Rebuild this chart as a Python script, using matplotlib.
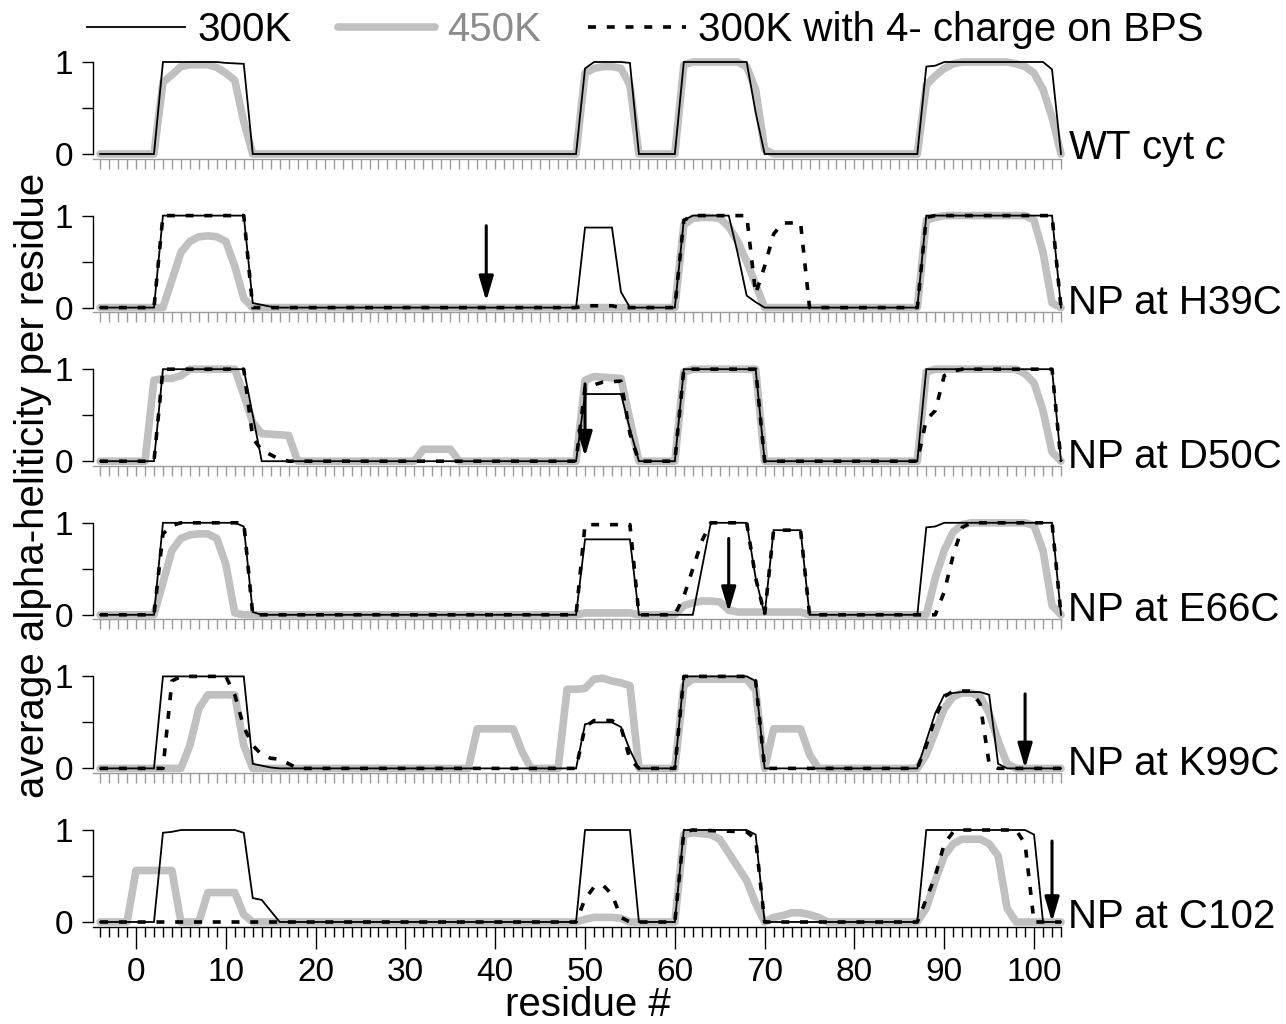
import matplotlib
matplotlib.use("Agg")
import matplotlib.pyplot as plt
from matplotlib.lines import Line2D
from matplotlib.ticker import FixedLocator, NullFormatter

plt.rcParams['font.family'] = ['Liberation Sans', 'DejaVu Sans']
plt.rcParams['mathtext.fontset'] = 'custom'
plt.rcParams['mathtext.it'] = 'Liberation Sans:italic'
plt.rcParams['mathtext.rm'] = 'Liberation Sans'

# ---- data: (residue, average helicity) vertices for each trajectory ----
panel_labels = ["WT cyt $c$", "NP at H39C", "NP at D50C",
                "NP at E66C", "NP at K99C", "NP at C102"]
np_residue = [None, 39, 50, 66, 99, 102]          # attachment site (arrow)
arrow_top = [None, 0.89, 0.84, 0.83, 0.81, 0.88]   # arrow tail height
arrow_tip = [None, 0.07, 0.05, 0.03, 0.0, 0.0]     # arrow tip height

wt_300 = [(-4, 0), (2, 0), (3, 1), (9, 1), (10, 0.99), (12, 0.98), (13, 0),
          (49, 0), (50, 0.93), (51, 1), (54, 1), (55, 0.99), (56, 0),
          (60, 0), (61, 1), (68, 1), (69, 0.45), (70, 0),
          (87, 0), (88, 0.95), (89, 0.96), (90, 1), (101, 1), (102, 0.92), (103, 0)]
wt_450 = [(-4, 0), (2, 0), (3, 0.78), (4, 0.86), (5, 0.95), (6, 0.97), (8, 0.97),
          (9, 0.94), (10, 0.88), (11, 0.8), (12, 0.35), (13, 0),
          (49, 0), (50, 0.88), (51, 0.93), (52, 0.95), (53, 0.95), (54, 0.93),
          (55, 0.75), (56, 0),
          (60, 0), (61, 0.97), (62, 1), (67, 1), (68, 0.95), (69, 0.7), (70, 0.05), (71, 0),
          (87, 0), (88, 0.75), (89, 0.85), (90, 0.93), (91, 0.98), (92, 1), (97, 1),
          (98, 0.98), (99, 0.95), (100, 0.88), (101, 0.7), (102, 0.4), (103, 0)]

h39_300 = [(-4, 0), (2, 0), (3, 1), (12, 1), (13, 0.05), (14, 0.03), (15, 0.01), (16, 0),
           (49, 0), (50, 0.87), (53, 0.87), (54, 0.17), (55, 0),
           (60, 0), (61, 0.95), (62, 1), (66, 1), (67, 0.59), (68, 0.13), (69, 0.06), (70, 0),
           (87, 0), (88, 1), (102, 1), (103, 0)]
h39_450 = [(-4, 0), (3, 0), (4, 0.3), (5, 0.6), (6, 0.72), (7, 0.77), (8, 0.78),
           (9, 0.77), (10, 0.72), (11, 0.45), (12, 0.1), (13, 0),
           (60, 0), (61, 0.9), (62, 0.97), (63, 0.98), (64, 0.98), (65, 0.97),
           (66, 0.88), (67, 0.72), (68, 0.5), (69, 0.25), (70, 0),
           (87, 0), (88, 0.95), (89, 0.98), (90, 1), (99, 1), (100, 0.95),
           (101, 0.6), (102, 0.05), (103, 0)]
h39_bps = [(-4, 0), (2, 0), (3, 1), (12, 1), (13, 0),
           (49, 0), (50, 0.02), (53, 0.02), (54, 0),
           (60, 0), (61, 0.95), (62, 1), (68, 1), (69, 0.15), (70, 0.45), (71, 0.8),
           (72, 0.92), (74, 0.92), (75, 0),
           (87, 0), (88, 0.98), (89, 1), (102, 1), (103, 0)]

d50_300 = [(-4, 0), (2, 0), (3, 1), (12, 1), (13, 0.5), (14, 0),
           (49, 0), (50, 0.73), (54, 0.73), (55, 0.35), (56, 0),
           (60, 0), (61, 1), (69, 1), (70, 0),
           (87, 0), (88, 1), (102, 1), (103, 0)]
d50_450 = [(-4, 0), (1, 0), (2, 0.88), (3, 0.9), (4, 0.9), (5, 0.93), (6, 1), (11, 1),
           (12, 0.72), (13, 0.42), (14, 0.3), (17, 0.28), (18, 0),
           (31, 0), (32, 0.13), (35, 0.13), (36, 0),
           (49, 0), (50, 0.88), (51, 0.92), (54, 0.9), (55, 0.45), (56, 0),
           (60, 0), (61, 0.97), (62, 1), (69, 1), (70, 0),
           (87, 0), (88, 0.97), (89, 1), (98, 1), (99, 0.95), (100, 0.85),
           (101, 0.55), (102, 0.1), (103, 0)]
d50_bps = [(-4, 0), (2, 0), (3, 1), (12, 1), (13, 0.25), (14, 0.12), (15, 0.07),
           (16, 0.02), (17, 0),
           (49, 0), (50, 0.8), (51, 0.83), (52, 0.86), (54, 0.87), (55, 0.3), (56, 0),
           (60, 0), (61, 1), (69, 1), (70, 0),
           (87, 0), (88, 0.45), (89, 0.55), (90, 0.93), (91, 0.98), (92, 1), (102, 1), (103, 0)]

e66_300 = [(-4, 0), (2, 0), (3, 1), (11, 1), (12, 0.96), (13, 0.03), (14, 0),
           (49, 0), (50, 0.82), (55, 0.82), (56, 0),
           (62, 0), (63, 0.5), (64, 1), (68, 1), (69, 0.4), (70, 0), (71, 0.92),
           (74, 0.92), (75, 0),
           (87, 0), (88, 0.95), (89, 0.96), (90, 1), (102, 1), (103, 0)]
e66_450 = [(-4, 0), (2, 0), (3, 0.35), (4, 0.7), (5, 0.83), (6, 0.87), (7, 0.88),
           (8, 0.88), (9, 0.83), (10, 0.55), (11, 0.02), (12, 0),
           (49, 0), (50, 0.02), (55, 0.02), (56, 0),
           (60, 0), (61, 0.1), (62, 0.13), (63, 0.15), (64, 0.15), (65, 0.14),
           (66, 0.05), (67, 0.03), (74, 0.03), (75, 0),
           (88, 0), (89, 0.4), (90, 0.7), (91, 0.9), (92, 0.98), (93, 1), (99, 1),
           (100, 0.97), (101, 0.7), (102, 0.1), (103, 0)]
e66_bps = [(-4, 0), (2, 0), (3, 0.88), (4, 0.97), (5, 1), (12, 1), (13, 0),
           (49, 0), (50, 0.98), (55, 0.98), (56, 0),
           (60, 0), (61, 0.2), (62, 0.5), (63, 0.8), (64, 1), (68, 1), (69, 0.4),
           (70, 0), (71, 0.92), (74, 0.92), (75, 0),
           (89, 0), (90, 0.25), (91, 0.65), (92, 0.95), (93, 1), (102, 1), (103, 0)]

k99_300 = [(-4, 0), (2, 0), (3, 1), (12, 1), (13, 0.05), (14, 0.03), (15, 0.01), (16, 0),
           (49, 0), (50, 0.48), (51, 0.5), (53, 0.5), (54, 0.45), (55, 0.2), (56, 0),
           (60, 0), (61, 1), (68, 1), (69, 0.95), (70, 0),
           (87, 0), (88, 0.3), (89, 0.6), (90, 0.8), (91, 0.82), (92, 0.83), (94, 0.83),
           (95, 0.8), (96, 0.05), (97, 0), (103, 0)]
k99_450 = [(-4, 0), (5, 0), (6, 0.25), (7, 0.65), (8, 0.8), (11, 0.8), (12, 0.25), (13, 0),
           (37, 0), (38, 0.43), (42, 0.43), (43, 0.18), (44, 0),
           (47, 0), (48, 0.86), (49, 0.86), (50, 0.87), (51, 0.97), (52, 0.98),
           (53, 0.95), (54, 0.93), (55, 0.9), (56, 0),
           (60, 0), (61, 0.9), (62, 0.97), (68, 0.97), (69, 0.85), (70, 0),
           (71, 0.43), (74, 0.43), (75, 0.15), (76, 0),
           (87, 0), (88, 0.15), (89, 0.4), (90, 0.65), (91, 0.78), (92, 0.82),
           (93, 0.82), (94, 0.78), (95, 0.6), (96, 0.3), (97, 0.05), (98, 0), (103, 0)]
k99_bps = [(-4, 0), (3, 0), (4, 0.95), (5, 1), (10, 1), (11, 0.8), (12, 0.45),
           (13, 0.25), (14, 0.15), (15, 0.11), (16, 0.1), (17, 0.05), (18, 0),
           (49, 0), (50, 0.45), (51, 0.52), (53, 0.52), (54, 0.45), (55, 0.1), (56, 0),
           (60, 0), (61, 1), (68, 1), (69, 0.95), (70, 0),
           (87, 0), (88, 0.25), (89, 0.55), (90, 0.78), (91, 0.84), (93, 0.84),
           (94, 0.7), (95, 0.05), (96, 0), (103, 0)]

c102_300 = [(-4, 0), (2, 0), (3, 0.97), (4, 0.98), (5, 1), (11, 1), (12, 0.97),
            (13, 0.26), (14, 0.24), (16, 0),
            (49, 0), (50, 1), (55, 1), (56, 0),
            (60, 0), (61, 1), (68, 1), (69, 0.95), (70, 0),
            (87, 0), (88, 1), (99, 1), (100, 0.95), (101, 0), (103, 0)]
c102_450 = [(-4, 0), (-1, 0), (0, 0.56), (4, 0.56), (5, 0), (7, 0), (8, 0.32),
            (11, 0.32), (12, 0.08), (13, 0),
            (49, 0), (50, 0.03), (51, 0.05), (53, 0.05), (54, 0.04), (55, 0),
            (60, 0), (61, 0.95), (62, 0.97), (63, 0.96), (64, 0.95), (65, 0.9),
            (66, 0.75), (67, 0.6), (68, 0.45), (69, 0.2), (70, 0),
            (71, 0.05), (72, 0.07), (73, 0.1), (74, 0.1), (75, 0.08), (76, 0.05), (77, 0),
            (87, 0), (88, 0.15), (89, 0.45), (90, 0.72), (91, 0.85), (92, 0.9),
            (94, 0.9), (95, 0.85), (96, 0.72), (97, 0.15), (98, 0), (103, 0)]
c102_bps = [(-4, 0), (49, 0), (50, 0.25), (51, 0.38), (52, 0.4), (53, 0.3),
            (54, 0.05), (55, 0),
            (60, 0), (61, 0.98), (62, 1), (68, 0.98), (69, 0.9), (70, 0),
            (87, 0), (88, 0.25), (89, 0.5), (90, 0.85), (91, 0.98), (92, 1),
            (98, 1), (99, 0.85), (100, 0), (103, 0)]

series_300 = [wt_300, h39_300, d50_300, e66_300, k99_300, c102_300]
series_450 = [wt_450, h39_450, d50_450, e66_450, k99_450, c102_450]
series_bps = [None, h39_bps, d50_bps, e66_bps, k99_bps, c102_bps]

x_major = list(range(0, 101, 10))
x_minor = list(range(-4, 104))

# ---- styles ----
GRAY = '#c0c0c0'
TICK_GRAY = '#9a9a9a'
FS = 29
st_300 = dict(color='black', lw=1.3, zorder=3, solid_joinstyle='miter')
st_450 = dict(color=GRAY, lw=5.5, zorder=2, solid_capstyle='round',
              solid_joinstyle='round')
st_bps = dict(color='black', lw=2.6, zorder=4, linestyle=(0, (2.2, 3.0)))

W, H = 1286, 1024
fig = plt.figure(figsize=(W / 100, H / 100), dpi=100)

x_left_px, x_right_px = 92.9, 1061.0
xlim = (-4.8, 103.0)
ylim = (-0.05, 1.05)
unit_px = 92.0

for k in range(6):
    zero_px = 154 + 153.6 * k
    bottom_px = zero_px - ylim[0] * unit_px
    height_px = (ylim[1] - ylim[0]) * unit_px
    ax = fig.add_axes([x_left_px / W, 1 - bottom_px / H,
                       (x_right_px - x_left_px) / W, height_px / H])
    ax.set_xlim(*xlim)
    ax.set_ylim(*ylim)
    ax.patch.set_visible(False)

    x, y = zip(*series_450[k])
    ax.plot(x, y, **st_450)
    x, y = zip(*series_300[k])
    ax.plot(x, y, **st_300)
    if series_bps[k] is not None:
        x, y = zip(*series_bps[k])
        ax.plot(x, y, **st_bps)
    for ln in ax.lines:
        ln.set_clip_on(False)

    if np_residue[k] is not None:
        r = np_residue[k]
        ax.annotate('', xy=(r, arrow_tip[k]), xytext=(r, arrow_top[k]),
                    arrowprops=dict(arrowstyle='-|>,head_length=0.75,head_width=0.22',
                                    lw=2.2, color='black', shrinkA=0, shrinkB=0,
                                    mutation_scale=20),
                    zorder=6, annotation_clip=False)

    # spines
    for s in ('top', 'right'):
        ax.spines[s].set_visible(False)
    ax.spines['left'].set_bounds(0, 1)
    ax.spines['left'].set_linewidth(1.0)
    ax.set_yticks([0, 0.5, 1])
    ax.set_yticklabels(['0', '', '1'])
    ax.tick_params(axis='y', direction='out', length=8, width=1.0,
                   labelsize=24, pad=6, color='black')

    last = (k == 5)
    tcol = 'black' if last else TICK_GRAY
    ax.spines['bottom'].set_color(tcol)
    ax.spines['bottom'].set_linewidth(1.0)
    ax.xaxis.set_major_locator(FixedLocator(x_major))
    ax.xaxis.set_minor_locator(FixedLocator(x_minor))
    ax.xaxis.set_minor_formatter(NullFormatter())
    ax.tick_params(axis='x', which='minor', direction='out', length=7.5,
                   width=1.0, color=tcol)
    if last:
        ax.tick_params(axis='x', which='major', direction='out', length=16,
                       width=1.0, color='black', labelsize=24, pad=6)
    else:
        ax.tick_params(axis='x', which='major', direction='out', length=7.5,
                       width=1.0, color=tcol, labelbottom=False)

    ax.text(1.0075, 0.05, panel_labels[k], transform=ax.get_yaxis_transform(),
            fontsize=FS, ha='left', va='center', clip_on=False)

# axis titles
fig.text(33 / W, 1 - 485 / H, 'average alpha-heliticity per residue',
         rotation=90, fontsize=FS, ha='center', va='center')
fig.text(588 / W, 1 - 1005 / H, 'residue #', fontsize=FS,
         ha='center', va='center')

# legend
handles = [Line2D([], [], **{k: v for k, v in st_300.items() if k != 'zorder'}),
           Line2D([], [], **{k: v for k, v in st_450.items() if k != 'zorder'}),
           Line2D([], [], **{k: v for k, v in st_bps.items() if k != 'zorder'})]
leg = fig.legend(handles, ['300K', '450K', '300K with 4- charge on BPS'],
                 loc='center left', bbox_to_anchor=(87 / W, 1 - 30 / H),
                 ncol=3, frameon=False, fontsize=FS, handlelength=2.43,
                 handletextpad=0.3, columnspacing=1.15, borderpad=0,
                 borderaxespad=0)
leg.get_texts()[1].set_color('#8c8c8c')

fig.savefig('out.png', dpi=100)
